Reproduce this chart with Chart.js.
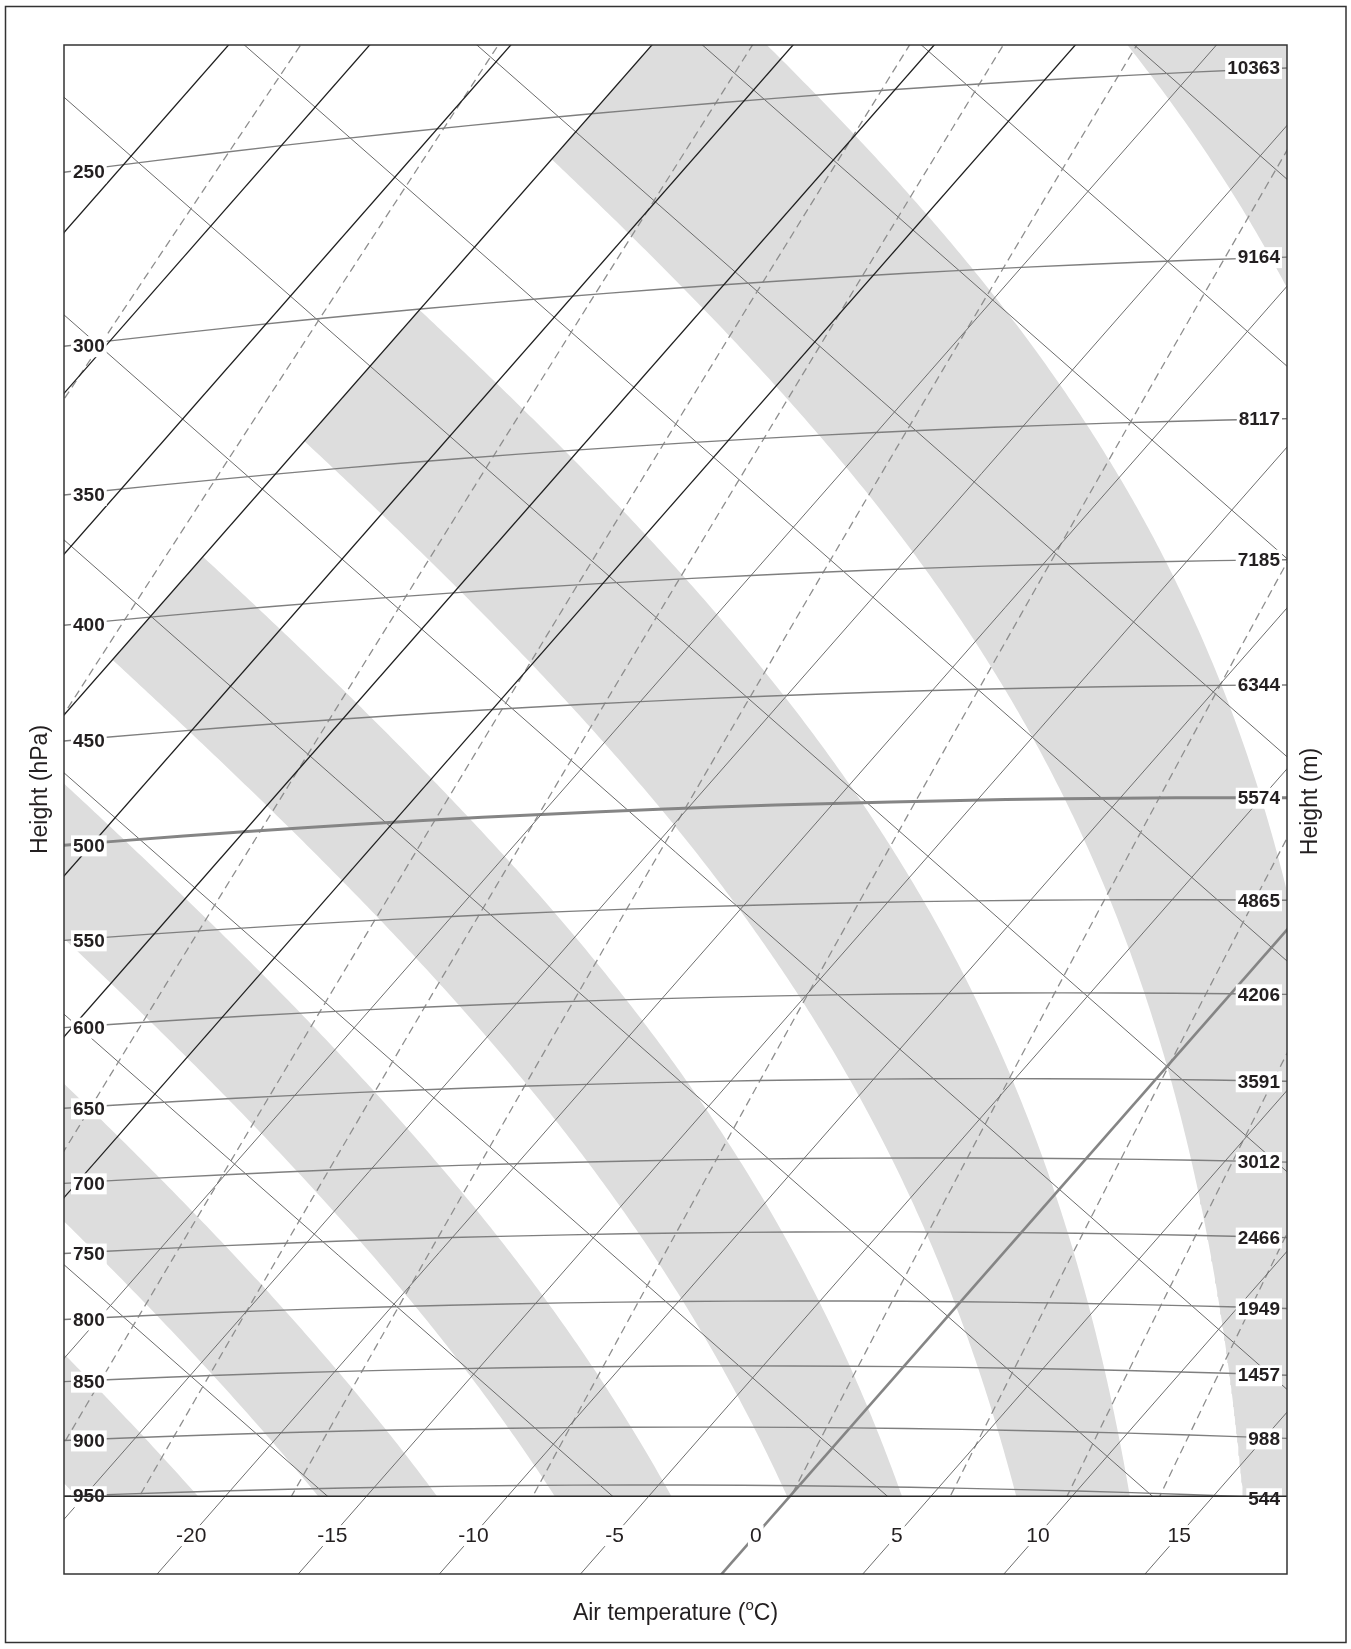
<!DOCTYPE html>
<html>
<head>
<meta charset="utf-8">
<title>Tephigram</title>
<script src="https://cdn.jsdelivr.net/npm/chart.js@4.4.1/dist/chart.umd.min.js"></script>
<style>
    html, body { margin: 0; padding: 0; background: #fff; }
    #wrap { position: relative; width: 1351px; height: 1649px; }
</style>
</head>
<body>
<div id="wrap"><canvas id="tephigram"></canvas></div>
<script>
// ----- values -----
const pressureLevels = [250, 300, 350, 400, 450, 500, 550, 600, 650, 700, 750, 800, 850, 900, 950];
const standardHeights = [10363, 9164, 8117, 7185, 6344, 5574, 4865, 4206, 3591, 3012, 2466, 1949, 1457, 988, 544];
const isotherms = [-65, -60, -55, -50, -45, -40, -35, -30, -25, -20, -15, -10, -5, 0, 5, 10, 15];
const isothermLabels = [-20, -15, -10, -5, 0, 5, 10, 15];
const dryAdiabats = [240, 250, 260, 270, 280, 290, 300, 310, 320, 330, 340, 350, 360, 370];   // K
const mixingRatios = [0.038, 0.09, 0.25, 0.45, 0.63, 1, 2, 4, 6, 8, 10];                   // g/kg
const wetBulbBands = [[-22, -18], [-14, -10], [-6, -2], [2, 6], [10, 14], [18, 22], [26, 30]]; // shaded, degC at 1000 hPa

// ----- tephigram geometry -----
const KAPPA = 0.2857;
const SKEW = 0.878;        // isotherm slope on the page
const THETA_X = 206.33;    // ln(theta) weight, horizontal
const THETA_Y = 235.0;     // ln(theta) weight, vertical
const CUT_T = -50;         // shading stops at this isotherm

function theta(T, p) { return (T + 273.15) * Math.pow(1000 / p, KAPPA); }
function toXY(T, th) {
    const l = Math.log(th);
    return { x: T + THETA_X * l, y: -SKEW * T + THETA_Y * l };
}
function at(T, p) { return toXY(T, theta(T, p)); }

const frameLow = at(-23.3, 1024);    // bottom-left corner of the frame
const frameHigh = at(-27.5, 244.5);  // top-right corner
const X_MIN = frameLow.x, X_MAX = frameHigh.x;
const Y_MIN = frameLow.y, Y_MAX = frameHigh.y;

// point where isobar p meets the vertical line x
function isobarAt(p, x) {
    let lo = -120, hi = 80;
    for (let i = 0; i < 60; i++) {
        const mid = (lo + hi) / 2;
        if (at(mid, p).x < x) lo = mid; else hi = mid;
    }
    return at((lo + hi) / 2, p);
}
const BASE_Y = isobarAt(950, X_MIN).y;

// moisture
function satVap(Tc) { return 6.112 * Math.exp(17.67 * Tc / (Tc + 243.5)); }
function satMix(Tc, p) { const e = satVap(Tc); return 0.622 * e / (p - e); }

function moistSlope(Tc, p) {
    const T = Tc + 273.15, rs = satMix(Tc, p);
    return (287.04 * T + 2.501e6 * rs) / (1005.7 + 2.501e6 * 2.501e6 * rs * 0.622 / (287.04 * T * T));
}
function stepMoist(T, lp, h) {
    const k1 = moistSlope(T, Math.exp(lp));
    const k2 = moistSlope(T + h * k1 / 2, Math.exp(lp + h / 2));
    return T + h * k2;
}

function moistPath(tw) {
    const h = 0.004;
    let T = tw, lp = Math.log(1000);
    while (lp < Math.log(1060)) { T = stepMoist(T, lp, h); lp += h; }
    const pts = [];
    let prev = null;
    while (lp > Math.log(150)) {
        const cur = { T: T, lp: lp, pt: at(T, Math.exp(lp)) };
        if (prev && prev.pt.y < BASE_Y && cur.pt.y >= BASE_Y) {
            const f = (BASE_Y - prev.pt.y) / (cur.pt.y - prev.pt.y);
            pts.push({ x: prev.pt.x + f * (cur.pt.x - prev.pt.x), y: BASE_Y });
        }
        if (prev && cur.T <= CUT_T) {
            const f = (prev.T - CUT_T) / (prev.T - cur.T);
            pts.push(at(CUT_T, Math.exp(prev.lp + f * (cur.lp - prev.lp))));
            break;
        }
        if (cur.pt.y >= BASE_Y) pts.push(cur.pt);
        prev = cur;
        T = stepMoist(T, lp, -h);
        lp -= h;
    }
    return pts;
}

function mixingLine(r) {
    const pts = [];
    for (let p = 1100; p >= 150; p -= 10) {
        const e = (r / 1000) * p / (0.622 + r / 1000);
        const a = Math.log(e / 6.112);
        pts.push(at(243.5 * a / (17.67 - a), p));
    }
    return pts;
}

function isobarLine(p) {
    const pts = [];
    for (let T = -110; T <= 60; T += 2) pts.push(at(T, p));
    return pts;
}

// ----- datasets -----
const datasets = [];

wetBulbBands.forEach(function (band) {
    const a = moistPath(band[0]);
    const b = moistPath(band[1]).reverse();
    datasets.push({
        data: a.concat(b), showLine: true, fill: 'shape',
        backgroundColor: '#dddddd', borderColor: 'rgba(0,0,0,0)', borderWidth: 0,
        pointRadius: 0, order: 6
    });
});

dryAdiabats.forEach(function (th) {
    datasets.push({
        data: [toXY(-110, th), toXY(60, th)], showLine: true, aboveBase: true,
        borderColor: '#6b6b6b', borderWidth: 1, pointRadius: 0, order: 5
    });
});

mixingRatios.forEach(function (r) {
    datasets.push({
        data: mixingLine(r), showLine: true, aboveBase: true,
        borderColor: '#8e8e8e', borderWidth: 1.3, borderDash: [8, 5], pointRadius: 0, order: 4
    });
});

pressureLevels.forEach(function (p) {
    const main = p === 500;
    datasets.push({
        data: isobarLine(p), showLine: true, aboveBase: true,
        borderColor: main ? '#858585' : '#7f7f7f', borderWidth: main ? 3 : 1.4,
        pointRadius: 0, order: 3
    });
});

isotherms.forEach(function (T) {
    const cold = T <= -35;
    datasets.push({
        data: [at(T, 1150), at(T, 120)], showLine: true,
        borderColor: T === 0 ? '#858585' : (cold ? '#1e1e1e' : '#6e6e6e'),
        borderWidth: T === 0 ? 2.6 : (cold ? 1.3 : 1),
        pointRadius: 0, order: T === 0 ? 1 : 2
    });
});

// ----- drawing helpers -----
const TEXT = '#231f20';
const FONT = '"Liberation Sans", Arial, sans-serif';

// text on a white patch, knocking out the lines underneath
function tag(ctx, text, x, y, align) {
    const w = ctx.measureText(text).width;
    const left = align === 'left' ? x : (align === 'right' ? x - w : x - w / 2);
    ctx.fillStyle = '#fff';
    ctx.fillRect(left - 2, y - 10, w + 4, 21);
    ctx.fillStyle = TEXT;
    ctx.textAlign = align;
    ctx.fillText(text, x, y + 1);
}

const tephiPlugin = {
    id: 'tephi',
    beforeDatasetDraw(chart, args) {
        if (!chart.data.datasets[args.index].aboveBase) return;
        const ctx = chart.ctx, a = chart.chartArea;
        const base = chart.scales.y.getPixelForValue(BASE_Y);
        ctx.save();
        ctx.beginPath();
        ctx.rect(a.left, a.top, a.right - a.left, base - a.top);
        ctx.clip();
    },
    afterDatasetDraw(chart, args) {
        if (chart.data.datasets[args.index].aboveBase) chart.ctx.restore();
    },
    afterDatasetsDraw(chart) {
        const ctx = chart.ctx, a = chart.chartArea;
        const xs = chart.scales.x, ys = chart.scales.y;
        ctx.save();
        ctx.textBaseline = 'middle';

        // temperatures along the isotherms, below the 950 hPa line
        const yLab = (BASE_Y + Y_MIN) / 2;
        ctx.font = '21px ' + FONT;
        isothermLabels.forEach(function (T) {
            const x = T + THETA_X * (yLab + SKEW * T) / THETA_Y;
            tag(ctx, String(T), xs.getPixelForValue(x), ys.getPixelForValue(yLab), 'center');
        });

        // pressure on the left end of each isobar, standard height on the right end
        ctx.font = 'bold 19px ' + FONT;
        pressureLevels.forEach(function (p, i) {
            const l = isobarAt(p, X_MIN), r = isobarAt(p, X_MAX);
            tag(ctx, String(p), a.left + 9, ys.getPixelForValue(l.y), 'left');
            tag(ctx, String(standardHeights[i]), a.right - 7, ys.getPixelForValue(r.y), 'right');
        });
        ctx.restore();
    },
    afterDraw(chart) {
        const ctx = chart.ctx, a = chart.chartArea;
        const base = chart.scales.y.getPixelForValue(BASE_Y);
        ctx.save();
        ctx.strokeStyle = '#2b2b2b';
        ctx.lineWidth = 1.5;
        ctx.beginPath();
        ctx.moveTo(a.left, base);
        ctx.lineTo(a.right, base);
        ctx.stroke();
        ctx.strokeStyle = '#333';
        ctx.strokeRect(a.left, a.top, a.right - a.left, a.bottom - a.top);
        ctx.strokeRect(5.5, 6.5, 1340.5, 1636);

        // axis titles
        ctx.fillStyle = TEXT;
        ctx.textBaseline = 'middle';
        const main = 'Air temperature (';
        const tail = 'C)';
        ctx.font = '23px ' + FONT;
        const w1 = ctx.measureText(main).width, w3 = ctx.measureText(tail).width;
        ctx.font = '15px ' + FONT;
        const w2 = ctx.measureText('o').width;
        const x = (a.left + a.right) / 2 - (w1 + w2 + w3) / 2;
        const y = a.bottom + 40;
        ctx.textAlign = 'left';
        ctx.font = '23px ' + FONT;
        ctx.fillText(main, x, y);
        ctx.font = '15px ' + FONT;
        ctx.fillText('o', x + w1, y - 8);
        ctx.font = '23px ' + FONT;
        ctx.fillText(tail, x + w1 + w2, y);

        ctx.textAlign = 'center';
        ctx.save();
        ctx.translate(a.left - 23, (a.top + a.bottom) / 2 - 20);
        ctx.rotate(-Math.PI / 2);
        ctx.fillText('Height (hPa)', 0, 0);
        ctx.restore();
        ctx.save();
        ctx.translate(a.right + 24, (a.top + a.bottom) / 2 - 8);
        ctx.rotate(-Math.PI / 2);
        ctx.fillText('Height (m)', 0, 0);
        ctx.restore();
        ctx.restore();
    }
};

new Chart(document.getElementById('tephigram'), {
    type: 'scatter',
    data: { datasets: datasets },
    options: {
        responsive: true,
        maintainAspectRatio: false,
        animation: false,
        layout: { padding: { left: 64, right: 64, top: 45, bottom: 75 } },
        plugins: { legend: { display: false }, tooltip: { enabled: false } },
        elements: { point: { radius: 0 }, line: { tension: 0 } },
        scales: {
            x: { type: 'linear', display: false, min: X_MIN, max: X_MAX },
            y: { type: 'linear', display: false, min: Y_MIN, max: Y_MAX }
        }
    },
    plugins: [tephiPlugin]
});
</script>
</body>
</html>
